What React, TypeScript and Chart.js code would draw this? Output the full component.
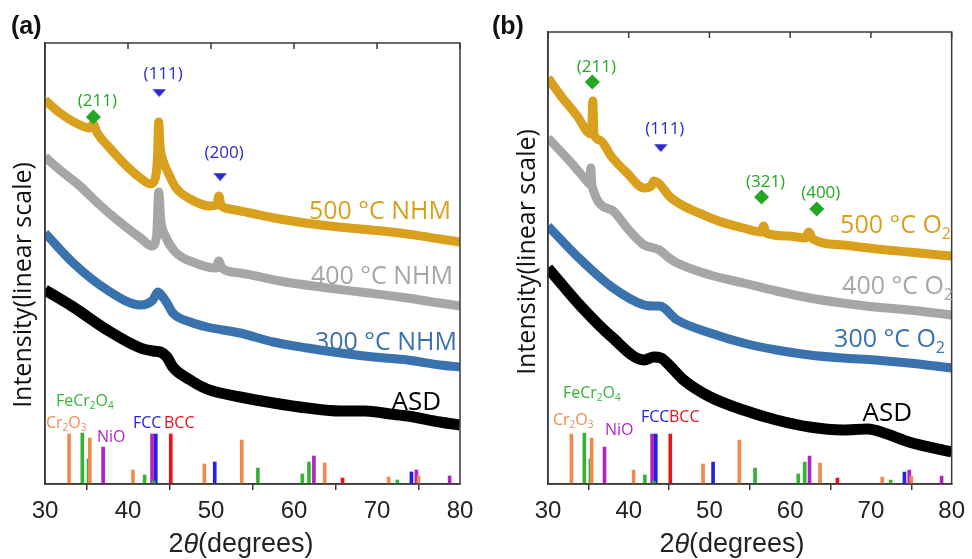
import React, { useEffect, useRef } from "react";
import { Chart, registerables } from "chart.js";
Chart.register(...registerables);

// ---------- shared x ticks ----------
const xTicks = [30, 40, 50, 60, 70, 80];

// ---------- reference stick patterns (2θ, relative height) ----------
const cr2o3X = [32.9, 35.4, 40.6, 49.2, 53.7, 63.7, 71.4, 75.0];
const cr2o3H = [50, 46, 14, 20, 44, 21, 7, 8];
const fecr2o4X = [34.5, 35.25, 42.0, 43.1, 55.65, 61.0, 61.8, 72.45];
const fecr2o4H = [51, 25, 9, 3, 16, 10, 22, 4];
const nioX = [37.0, 42.9, 62.4, 74.75, 78.75];
const nioH = [37, 50, 28, 14, 8];
const fccX = [43.35, 50.45, 74.15];
const fccH = [50, 22, 12];
const bccX = [45.15, 65.85];
const bccH = [50, 6];

// ---------- panel (a) curves ----------
const aX500 = [30.0, 31.8, 34.2, 35.4, 35.8, 36.3, 37.8, 39.7, 41.5, 42.7, 43.3, 43.55, 43.7, 43.85, 44.2, 44.8, 45.7, 47.5, 49.9, 50.7, 50.95, 51.2, 52.3, 54.7, 58.3, 63.2, 68.0, 72.8, 77.6, 80.0];
const aY500 = [384, 371, 359, 356, 360, 351, 336, 319, 306, 300, 306, 326, 362, 339, 324, 312, 297, 285, 278, 279, 288, 279, 275, 271, 265, 259, 255, 251, 245, 242];
const aX400 = [30.0, 31.8, 34.2, 36.6, 39.0, 41.5, 42.9, 43.45, 43.7, 43.95, 44.5, 45.7, 48.1, 50.6, 50.95, 51.3, 53.5, 58.3, 63.2, 68.0, 72.8, 77.6, 80.0];
const aY400 = [327, 314, 298, 279, 262, 246, 238, 248, 292, 264, 248, 232, 221, 216, 223, 216, 211, 203, 197, 192, 187, 181, 178];
const aX300 = [30.0, 33.4, 37.5, 41.5, 43.0, 43.6, 44.1, 44.7, 45.4, 47.5, 49.5, 53.5, 57.5, 61.6, 65.6, 69.6, 73.7, 77.6, 80.0];
const aY300 = [251, 221, 194, 179, 184, 192, 188, 181, 171, 162, 157, 151, 142, 136, 131, 127, 124, 119, 117];
const aXASD = [30.0, 33.4, 37.5, 41.5, 43.0, 43.9, 44.7, 45.4, 47.5, 49.5, 53.5, 57.5, 61.6, 65.6, 68.6, 71.6, 73.7, 77.6, 80.0];
const aYASD = [194, 177, 154, 136, 133, 132, 127, 117, 104, 95, 87, 81, 76, 73, 73, 70, 68, 62, 59];

// ---------- panel (b) curves ----------
const bX500 = [30.0, 31.7, 33.7, 34.9, 35.4, 35.55, 35.7, 36.4, 37.9, 39.8, 41.9, 42.8, 43.1, 43.8, 45.0, 46.8, 48.7, 51.1, 54.2, 56.4, 56.7, 57.0, 59.7, 61.9, 62.3, 62.8, 66.5, 70.8, 74.7, 80.0];
const bY500 = [406, 387, 367, 352, 350, 383, 350, 344, 327, 311, 296, 298, 303, 300, 288, 278, 271, 263, 256, 252, 258, 251, 248, 246, 252, 245, 239, 235, 232, 228];
const bX400 = [30.0, 32.9, 34.9, 35.15, 35.3, 35.45, 37.9, 39.8, 41.9, 43.1, 43.8, 45.0, 46.0, 50.1, 54.2, 58.3, 62.4, 66.5, 70.5, 74.7, 80.0];
const bY400 = [346, 321, 302, 300, 316, 298, 274, 256, 239, 236, 234, 226, 221, 209, 201, 193, 186, 181, 177, 174, 169];
const bX300 = [30.0, 33.7, 37.9, 41.9, 43.1, 43.8, 46.0, 50.1, 54.2, 58.3, 62.4, 66.5, 70.5, 74.7, 80.0];
const bY300 = [258, 227, 197, 179, 178, 178, 164, 151, 141, 134, 129, 126, 124, 121, 116];
const bXASD = [30.0, 33.7, 37.9, 41.9, 43.1, 44.0, 45.0, 46.8, 50.1, 54.2, 58.3, 62.4, 66.5, 69.6, 72.0, 74.7, 80.0];
const bYASD = [216, 181, 147, 124, 127, 126, 119, 104, 87, 74, 64, 57, 54, 55, 50, 42, 32];

// ---------- peak markers ----------
const aMarkX = [35.83, 43.76, 51.1];
const aMarkY = [367, 391, 307];
const aMarkLabel = ["(211)", "(111)", "(200)"];
const aMarkKind = ["diamond", "triangle", "triangle"];
const bMarkX = [35.49, 43.97, 56.45, 63.29];
const bMarkY = [402, 336, 287, 275];
const bMarkLabel = ["(211)", "(111)", "(321)", "(400)"];
const bMarkKind = ["diamond", "triangle", "diamond", "diamond"];

// ---------- colours ----------
const C_ORANGE = "#D9A01E";
const C_GRAY = "#A6A6A6";
const C_BLUE = "#3A72AE";
const C_BLACK = "#000000";
const C_CR2O3 = "#EE8A4E";
const C_FECR = "#36B336";
const C_NIO = "#B023C4";
const C_FCC = "#2222E0";
const C_BCC = "#E5141C";
const C_ANN_GREEN = "#22A822";
const C_ANN_BLUE = "#2929CF";

const FONT_SANS = "'Open Sans', 'Noto Sans', sans-serif";
const FONT_AX = "'Liberation Sans', Arial, sans-serif";

type Part = { t: string; sub?: boolean; italic?: boolean; bold?: boolean };
type Label = { parts: Part[]; x: number; y: number; align: "left" | "right" | "center"; size: number; color: string; family?: string };

function drawParts(ctx: CanvasRenderingContext2D, l: Label) {
  const family = l.family || FONT_SANS;
  ctx.save();
  ctx.fillStyle = l.color;
  ctx.textBaseline = "middle";
  ctx.textAlign = "left";
  const fontOf = (p: Part) => `${p.italic ? "italic " : ""}${p.bold ? "bold " : ""}${p.sub ? Math.round(l.size * 0.65) : l.size}px ${family}`;
  let total = 0;
  const widths = l.parts.map((p) => {
    ctx.font = fontOf(p);
    const w = ctx.measureText(p.t).width;
    total += w;
    return w;
  });
  let cx = l.align === "left" ? l.x : l.align === "right" ? l.x - total : l.x - total / 2;
  l.parts.forEach((p, i) => {
    ctx.font = fontOf(p);
    ctx.fillText(p.t, cx, l.y + (p.sub ? l.size * 0.32 : 0));
    cx += widths[i];
  });
  ctx.restore();
}

const pts = (xs: number[], ys: number[]) => xs.map((x, i) => ({ x, y: ys[i] }));

function curve(label: string, xs: number[], ys: number[], color: string, width: number) {
  return {
    type: "line",
    label,
    data: pts(xs, ys),
    borderColor: color,
    borderWidth: width,
    pointRadius: 0,
    cubicInterpolationMode: "monotone",
    fill: false,
    order: 1,
  };
}

function sticks(label: string, xs: number[], hs: number[], color: string) {
  return {
    type: "bar",
    label,
    data: pts(xs, hs),
    backgroundColor: color,
    barThickness: 3,
    grouped: false,
    order: 2,
  };
}

function refLabels(fe: [number, number], cr: [number, number], ni: [number, number], fcc: [number, number], bcc: [number, number]): Label[] {
  const s = 16;
  return [
    { parts: [{ t: "FeCr" }, { t: "2", sub: true }, { t: "O" }, { t: "4", sub: true }], x: fe[0], y: fe[1], align: "left", size: s, color: C_FECR },
    { parts: [{ t: "Cr" }, { t: "2", sub: true }, { t: "O" }, { t: "3", sub: true }], x: cr[0], y: cr[1], align: "left", size: s, color: C_CR2O3 },
    { parts: [{ t: "NiO" }], x: ni[0], y: ni[1], align: "left", size: s, color: C_NIO },
    { parts: [{ t: "FCC" }], x: fcc[0], y: fcc[1], align: "left", size: s, color: C_FCC },
    { parts: [{ t: "BCC" }], x: bcc[0], y: bcc[1], align: "left", size: s, color: C_BCC },
  ];
}

type PanelCfg = {
  yMax: number;
  yAxisWidth: number;
  padTop: number;
  padRight: number;
  curves: any[];
  markX: number[];
  markY: number[];
  markLabel: string[];
  markKind: string[];
  markTextDy: number[];
  labels: Label[];
  panelLabel: string;
  panelLabelX: number;
  yTitleX: number;
  yTitleY: number;
  xTitleX: number;
};

function makeTri(color: string) {
  const c = document.createElement("canvas");
  c.width = 14;
  c.height = 9;
  const g = c.getContext("2d")!;
  g.fillStyle = color;
  g.beginPath();
  g.moveTo(0, 0.5);
  g.lineTo(14, 0.5);
  g.lineTo(7, 8.5);
  g.closePath();
  g.fill();
  return c;
}

function buildChart(canvas: HTMLCanvasElement, cfg: PanelCfg) {
  const tri = makeTri(C_ANN_BLUE);
  const markerSets = cfg.markX.map((x, i) => ({
    type: "scatter",
    label: cfg.markLabel[i],
    data: [{ x, y: cfg.markY[i] }],
    pointStyle: cfg.markKind[i] === "triangle" ? tri : "rectRot",
    pointRadius: 7.5,
    backgroundColor: cfg.markKind[i] === "triangle" ? C_ANN_BLUE : C_ANN_GREEN,
    borderColor: cfg.markKind[i] === "triangle" ? C_ANN_BLUE : C_ANN_GREEN,
    borderWidth: 0,
    order: 0,
  }));

  const textPlugin = {
    id: "panelText",
    afterDraw(chart: any) {
      const ctx = chart.ctx as CanvasRenderingContext2D;
      const a = chart.chartArea;
      const xs = chart.scales.x;
      const ys = chart.scales.y;
      // frame
      ctx.save();
      ctx.strokeStyle = "#3a3a3a";
      ctx.lineWidth = 1.5;
      ctx.strokeRect(a.left, a.top, a.right - a.left, a.bottom - a.top);
      // inward top ticks
      ctx.beginPath();
      for (const v of xTicks) {
        const px = xs.getPixelForValue(v);
        ctx.moveTo(px, a.top);
        ctx.lineTo(px, a.top + 6);
      }
      ctx.stroke();
      ctx.restore();
      // marker texts
      cfg.markX.forEach((x, i) => {
        const px = xs.getPixelForValue(x);
        const py = ys.getPixelForValue(cfg.markY[i]);
        drawParts(ctx, {
          parts: [{ t: cfg.markLabel[i] }],
          x: px + 4,
          y: py + cfg.markTextDy[i],
          align: "center",
          size: 17,
          color: cfg.markKind[i] === "triangle" ? C_ANN_BLUE : C_ANN_GREEN,
        });
      });
      // labels
      cfg.labels.forEach((l) => drawParts(ctx, l));
      // panel label
      drawParts(ctx, { parts: [{ t: cfg.panelLabel, bold: true }], x: cfg.panelLabelX, y: 27, align: "left", size: 25, color: "#111", family: FONT_AX });
      // y title
      ctx.save();
      ctx.translate(cfg.yTitleX, cfg.yTitleY);
      ctx.rotate(-Math.PI / 2);
      drawParts(ctx, { parts: [{ t: "Intensity(linear scale)" }], x: 0, y: 0, align: "center", size: 25, color: "#111" });
      ctx.restore();
      // x title
      drawParts(ctx, {
        parts: [{ t: "2" }, { t: "\u03B8", italic: true }, { t: "(degrees)" }],
        x: cfg.xTitleX,
        y: 545,
        align: "center",
        size: 27,
        color: "#222",
        family: FONT_AX,
      });
    },
  };

  return new Chart(canvas, {
    type: "line",
    data: {
      datasets: [
        ...markerSets,
        ...cfg.curves,
        sticks("Cr2O3", cr2o3X, cr2o3H, C_CR2O3),
        sticks("FeCr2O4", fecr2o4X, fecr2o4H, C_FECR),
        sticks("NiO", nioX, nioH, C_NIO),
        sticks("FCC", fccX, fccH, C_FCC),
        sticks("BCC", bccX, bccH, C_BCC),
      ] as any,
    },
    options: {
      animation: false,
      responsive: true,
      maintainAspectRatio: false,
      devicePixelRatio: 1,
      layout: { padding: { top: cfg.padTop, right: cfg.padRight, left: 0, bottom: 0 } },
      plugins: { legend: { display: false }, tooltip: { enabled: false } },
      scales: {
        x: {
          type: "linear",
          min: 30,
          max: 80,
          offset: false,
          afterFit: (s: any) => {
            s.height = 75;
          },
          ticks: {
            stepSize: 10,
            padding: 7,
            color: "#222",
            font: { family: FONT_AX, size: 24 },
            maxRotation: 0,
          },
          grid: { drawOnChartArea: false, drawTicks: true, tickLength: 6, color: "#3a3a3a", lineWidth: 1.5 },
          border: { display: true, color: "#3a3a3a", width: 1.5 },
        },
        y: {
          type: "linear",
          min: 0,
          max: cfg.yMax,
          afterFit: (s: any) => {
            s.width = cfg.yAxisWidth;
          },
          ticks: { display: false },
          grid: { display: false },
          border: { display: true, color: "#3a3a3a", width: 1.5 },
        },
      },
    } as any,
    plugins: [textPlugin],
  });
}

const panelA: PanelCfg = {
  yMax: 441,
  yAxisWidth: 45,
  padTop: 43,
  padRight: 26,
  curves: [
    curve("500 °C NHM", aX500, aY500, C_ORANGE, 9),
    curve("400 °C NHM", aX400, aY400, C_GRAY, 9),
    curve("300 °C NHM", aX300, aY300, C_BLUE, 9),
    curve("ASD", aXASD, aYASD, C_BLACK, 11),
  ],
  markX: aMarkX,
  markY: aMarkY,
  markLabel: aMarkLabel,
  markKind: aMarkKind,
  markTextDy: [-16, -19, -24],
  labels: [
    { parts: [{ t: "500 °C NHM" }], x: 451, y: 212, align: "right", size: 25, color: C_ORANGE },
    { parts: [{ t: "400 °C NHM" }], x: 453, y: 277, align: "right", size: 25, color: C_GRAY },
    { parts: [{ t: "300 °C NHM" }], x: 457, y: 343, align: "right", size: 25, color: C_BLUE },
    { parts: [{ t: "ASD" }], x: 441, y: 403, align: "right", size: 26, color: "#000" },
    ...refLabels([56, 401], [46, 423], [97, 437], [133, 423], [164, 423]),
  ],
  panelLabel: "(a)",
  panelLabelX: 11,
  yTitleX: 24,
  yTitleY: 285,
  xTitleX: 241,
};

const panelB: PanelCfg = {
  yMax: 452,
  yAxisWidth: 62,
  padTop: 32,
  padRight: 17,
  curves: [
    curve("500 °C O2", bX500, bY500, C_ORANGE, 9),
    curve("400 °C O2", bX400, bY400, C_GRAY, 9),
    curve("300 °C O2", bX300, bY300, C_BLUE, 9),
    curve("ASD", bXASD, bYASD, C_BLACK, 11),
  ],
  markX: bMarkX,
  markY: bMarkY,
  markLabel: bMarkLabel,
  markKind: bMarkKind,
  markTextDy: [-15, -19, -15, -16],
  labels: [
    { parts: [{ t: "500 °C O" }, { t: "2", sub: true }], x: 465, y: 226, align: "right", size: 25, color: C_ORANGE },
    { parts: [{ t: "400 °C O" }, { t: "2", sub: true }], x: 467, y: 287, align: "right", size: 25, color: C_GRAY },
    { parts: [{ t: "300 °C O" }, { t: "2", sub: true }], x: 459, y: 340, align: "right", size: 25, color: C_BLUE },
    { parts: [{ t: "ASD" }], x: 426, y: 414, align: "right", size: 26, color: "#000" },
    ...refLabels([77, 393], [67, 420], [119, 430], [155, 417], [183, 417]),
  ],
  panelLabel: "(b)",
  panelLabelX: 6,
  yTitleX: 42,
  yTitleY: 252,
  xTitleX: 246,
};

function Panel({ cfg, left }: { cfg: PanelCfg; left: number }) {
  const ref = useRef<HTMLCanvasElement>(null);
  useEffect(() => {
    if (!ref.current) return;
    const chart = buildChart(ref.current, cfg);
    return () => chart.destroy();
  }, [cfg]);
  return (
    <div style={{ position: "absolute", left, top: 0, width: 486, height: 559 }}>
      <canvas ref={ref} />
    </div>
  );
}

export default function App() {
  return (
    <div style={{ position: "fixed", left: 0, top: 0, width: 972, height: 559, background: "#fff", overflow: "hidden" }}>
      <Panel cfg={panelA} left={0} />
      <Panel cfg={panelB} left={486} />
    </div>
  );
}
